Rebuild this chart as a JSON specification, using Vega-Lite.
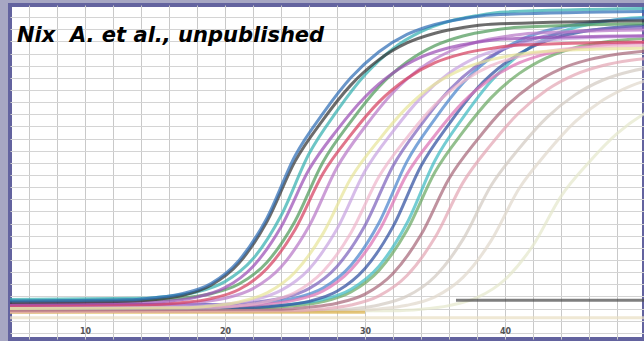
{
  "$schema": "https://vega.github.io/schema/vega-lite/v6.json",
  "width": 634,
  "height": 334,
  "autosize": {"type": "none"},
  "padding": {"left": 10, "top": 5, "right": 0, "bottom": 2},
  "background": "#a7a7c3",
  "config": {"view": {"stroke": "#63639f", "strokeWidth": 4, "fill": "#ffffff"}},
  "title": {
    "text": "Nix\u00a0 A. et al., unpublished",
    "anchor": "start",
    "frame": "group",
    "orient": "top",
    "offset": 0,
    "baseline": "alphabetic",
    "dx": 7,
    "dy": 58,
    "font": "DejaVu Sans",
    "fontSize": 21,
    "fontStyle": "italic",
    "fontWeight": "bold",
    "color": "#000000"
  },
  "data": {"values": [
    {"s":"F4","c":4,"v":-0.03},{"s":"F4","c":51,"v":-0.03},
    {"s":"D3","c":4,"v":-0.01},{"s":"D3","c":32,"v":-0.007},{"s":"D3","c":34,"v":-0.002},{"s":"D3","c":36,"v":0.01},{"s":"D3","c":38,"v":0.036},{"s":"D3","c":40,"v":0.096},{"s":"D3","c":42,"v":0.208},{"s":"D3","c":44,"v":0.37},{"s":"D3","c":46,"v":0.482},{"s":"D3","c":48,"v":0.576},{"s":"D3","c":50,"v":0.644},{"s":"D3","c":52,"v":0.688},
    {"s":"D2","c":4,"v":-0.01},{"s":"D2","c":29,"v":-0.007},{"s":"D2","c":31,"v":-0.001},{"s":"D2","c":33,"v":0.011},{"s":"D2","c":35,"v":0.039},{"s":"D2","c":37,"v":0.103},{"s":"D2","c":39,"v":0.223},{"s":"D2","c":41,"v":0.395},{"s":"D2","c":43,"v":0.514},{"s":"D2","c":45,"v":0.615},{"s":"D2","c":47,"v":0.687},{"s":"D2","c":49,"v":0.734},{"s":"D2","c":51,"v":0.763},
    {"s":"D1","c":4,"v":-0.01},{"s":"D1","c":27,"v":-0.007},{"s":"D1","c":29,"v":-0.001},{"s":"D1","c":31,"v":0.012},{"s":"D1","c":33,"v":0.041},{"s":"D1","c":35,"v":0.106},{"s":"D1","c":37,"v":0.228},{"s":"D1","c":39,"v":0.405},{"s":"D1","c":41,"v":0.527},{"s":"D1","c":43,"v":0.63},{"s":"D1","c":45,"v":0.704},{"s":"D1","c":47,"v":0.753},{"s":"D1","c":49,"v":0.782},{"s":"D1","c":51,"v":0.798},
    {"s":"F2","c":4,"v":-0.012},{"s":"F2","c":30,"v":-0.012},
    {"s":"F1","c":36.5,"v":0.028},{"s":"F1","c":51,"v":0.028},
    {"s":"R8","c":4,"v":-0.01},{"s":"R8","c":25,"v":-0.007},{"s":"R8","c":27,"v":-0.001},{"s":"R8","c":29,"v":0.012},{"s":"R8","c":31,"v":0.042},{"s":"R8","c":33,"v":0.109},{"s":"R8","c":35,"v":0.234},{"s":"R8","c":37,"v":0.415},{"s":"R8","c":39,"v":0.54},{"s":"R8","c":41,"v":0.645},{"s":"R8","c":43,"v":0.721},{"s":"R8","c":45,"v":0.771},{"s":"R8","c":47,"v":0.801},{"s":"R8","c":49,"v":0.818},{"s":"R8","c":51,"v":0.828},
    {"s":"R7","c":4,"v":-0.005},{"s":"R7","c":24,"v":-0.002},{"s":"R7","c":26,"v":0.005},{"s":"R7","c":28,"v":0.018},{"s":"R7","c":30,"v":0.048},{"s":"R7","c":32,"v":0.116},{"s":"R7","c":34,"v":0.243},{"s":"R7","c":36,"v":0.428},{"s":"R7","c":38,"v":0.555},{"s":"R7","c":40,"v":0.662},{"s":"R7","c":42,"v":0.739},{"s":"R7","c":44,"v":0.79},{"s":"R7","c":46,"v":0.82},{"s":"R7","c":48,"v":0.838},{"s":"R7","c":50,"v":0.848},{"s":"R7","c":51,"v":0.851},
    {"s":"R6","c":4,"v":0},{"s":"R6","c":23,"v":0.004},{"s":"R6","c":25,"v":0.01},{"s":"R6","c":27,"v":0.023},{"s":"R6","c":29,"v":0.055},{"s":"R6","c":31,"v":0.126},{"s":"R6","c":33,"v":0.258},{"s":"R6","c":35,"v":0.45},{"s":"R6","c":37,"v":0.582},{"s":"R6","c":39,"v":0.694},{"s":"R6","c":41,"v":0.774},{"s":"R6","c":43,"v":0.827},{"s":"R6","c":45,"v":0.859},{"s":"R6","c":47,"v":0.877},{"s":"R6","c":49,"v":0.887},{"s":"R6","c":51,"v":0.893},
    {"s":"R5","c":4,"v":0.005},{"s":"R5","c":23,"v":0.009},{"s":"R5","c":25,"v":0.016},{"s":"R5","c":27,"v":0.03},{"s":"R5","c":29,"v":0.064},{"s":"R5","c":31,"v":0.14},{"s":"R5","c":33,"v":0.282},{"s":"R5","c":35,"v":0.488},{"s":"R5","c":37,"v":0.629},{"s":"R5","c":39,"v":0.749},{"s":"R5","c":41,"v":0.835},{"s":"R5","c":43,"v":0.892},{"s":"R5","c":45,"v":0.926},{"s":"R5","c":47,"v":0.945},{"s":"R5","c":49,"v":0.957},{"s":"R5","c":51,"v":0.962},
    {"s":"R4","c":4,"v":0},{"s":"R4","c":22,"v":0.004},{"s":"R4","c":24,"v":0.01},{"s":"R4","c":26,"v":0.024},{"s":"R4","c":28,"v":0.057},{"s":"R4","c":30,"v":0.132},{"s":"R4","c":32,"v":0.27},{"s":"R4","c":34,"v":0.47},{"s":"R4","c":36,"v":0.608},{"s":"R4","c":38,"v":0.725},{"s":"R4","c":40,"v":0.808},{"s":"R4","c":42,"v":0.864},{"s":"R4","c":44,"v":0.897},{"s":"R4","c":46,"v":0.916},{"s":"R4","c":48,"v":0.927},{"s":"R4","c":51,"v":0.934},
    {"s":"R3","c":4,"v":0.01},{"s":"R3","c":21,"v":0.014},{"s":"R3","c":23,"v":0.021},{"s":"R3","c":25,"v":0.035},{"s":"R3","c":27,"v":0.068},{"s":"R3","c":29,"v":0.143},{"s":"R3","c":31,"v":0.283},{"s":"R3","c":33,"v":0.485},{"s":"R3","c":35,"v":0.625},{"s":"R3","c":37,"v":0.743},{"s":"R3","c":39,"v":0.827},{"s":"R3","c":41,"v":0.883},{"s":"R3","c":43,"v":0.916},{"s":"R3","c":45,"v":0.935},{"s":"R3","c":47,"v":0.947},{"s":"R3","c":51,"v":0.956},
    {"s":"R2","c":4,"v":0.005},{"s":"R2","c":21,"v":0.009},{"s":"R2","c":23,"v":0.015},{"s":"R2","c":25,"v":0.028},{"s":"R2","c":27,"v":0.058},{"s":"R2","c":29,"v":0.128},{"s":"R2","c":31,"v":0.256},{"s":"R2","c":33,"v":0.443},{"s":"R2","c":35,"v":0.571},{"s":"R2","c":37,"v":0.68},{"s":"R2","c":39,"v":0.758},{"s":"R2","c":41,"v":0.809},{"s":"R2","c":43,"v":0.84},{"s":"R2","c":45,"v":0.857},{"s":"R2","c":47,"v":0.868},{"s":"R2","c":51,"v":0.877},
    {"s":"R1","c":4,"v":0.01},{"s":"R1","c":20,"v":0.014},{"s":"R1","c":22,"v":0.02},{"s":"R1","c":24,"v":0.034},{"s":"R1","c":26,"v":0.066},{"s":"R1","c":28,"v":0.139},{"s":"R1","c":30,"v":0.274},{"s":"R1","c":32,"v":0.47},{"s":"R1","c":34,"v":0.605},{"s":"R1","c":36,"v":0.719},{"s":"R1","c":38,"v":0.801},{"s":"R1","c":40,"v":0.856},{"s":"R1","c":42,"v":0.888},{"s":"R1","c":44,"v":0.906},{"s":"R1","c":46,"v":0.917},{"s":"R1","c":51,"v":0.927},
    {"s":"M3","c":4,"v":0},{"s":"M3","c":19,"v":0.003},{"s":"M3","c":21,"v":0.01},{"s":"M3","c":23,"v":0.023},{"s":"M3","c":25,"v":0.053},{"s":"M3","c":27,"v":0.122},{"s":"M3","c":29,"v":0.25},{"s":"M3","c":31,"v":0.435},{"s":"M3","c":33,"v":0.563},{"s":"M3","c":35,"v":0.671},{"s":"M3","c":37,"v":0.748},{"s":"M3","c":39,"v":0.8},{"s":"M3","c":41,"v":0.83},{"s":"M3","c":43,"v":0.847},{"s":"M3","c":45,"v":0.858},{"s":"M3","c":51,"v":0.868},
    {"s":"M2","c":4,"v":0.005},{"s":"M2","c":18,"v":0.009},{"s":"M2","c":20,"v":0.015},{"s":"M2","c":22,"v":0.028},{"s":"M2","c":24,"v":0.06},{"s":"M2","c":26,"v":0.13},{"s":"M2","c":28,"v":0.262},{"s":"M2","c":30,"v":0.453},{"s":"M2","c":32,"v":0.584},{"s":"M2","c":34,"v":0.695},{"s":"M2","c":36,"v":0.775},{"s":"M2","c":38,"v":0.828},{"s":"M2","c":40,"v":0.859},{"s":"M2","c":42,"v":0.877},{"s":"M2","c":44,"v":0.888},{"s":"M2","c":51,"v":0.898},
    {"s":"M1","c":4,"v":0},{"s":"M1","c":17,"v":0.003},{"s":"M1","c":19,"v":0.009},{"s":"M1","c":21,"v":0.022},{"s":"M1","c":23,"v":0.052},{"s":"M1","c":25,"v":0.12},{"s":"M1","c":27,"v":0.247},{"s":"M1","c":29,"v":0.43},{"s":"M1","c":31,"v":0.556},{"s":"M1","c":33,"v":0.663},{"s":"M1","c":35,"v":0.74},{"s":"M1","c":37,"v":0.79},{"s":"M1","c":39,"v":0.82},{"s":"M1","c":41,"v":0.838},{"s":"M1","c":43,"v":0.848},{"s":"M1","c":51,"v":0.858},
    {"s":"L7","c":4,"v":0.01},{"s":"L7","c":16,"v":0.014},{"s":"L7","c":18,"v":0.02},{"s":"L7","c":20,"v":0.034},{"s":"L7","c":22,"v":0.066},{"s":"L7","c":24,"v":0.137},{"s":"L7","c":26,"v":0.271},{"s":"L7","c":28,"v":0.465},{"s":"L7","c":30,"v":0.599},{"s":"L7","c":32,"v":0.712},{"s":"L7","c":34,"v":0.793},{"s":"L7","c":36,"v":0.846},{"s":"L7","c":38,"v":0.878},{"s":"L7","c":40,"v":0.896},{"s":"L7","c":42,"v":0.907},{"s":"L7","c":51,"v":0.918},
    {"s":"L6","c":4,"v":0.025},{"s":"L6","c":15,"v":0.029},{"s":"L6","c":17,"v":0.035},{"s":"L6","c":19,"v":0.049},{"s":"L6","c":21,"v":0.081},{"s":"L6","c":23,"v":0.153},{"s":"L6","c":25,"v":0.288},{"s":"L6","c":27,"v":0.483},{"s":"L6","c":29,"v":0.617},{"s":"L6","c":31,"v":0.731},{"s":"L6","c":33,"v":0.812},{"s":"L6","c":35,"v":0.866},{"s":"L6","c":37,"v":0.898},{"s":"L6","c":39,"v":0.916},{"s":"L6","c":41,"v":0.927},{"s":"L6","c":51,"v":0.939},
    {"s":"L5","c":4,"v":0.01},{"s":"L5","c":15,"v":0.014},{"s":"L5","c":17,"v":0.02},{"s":"L5","c":19,"v":0.033},{"s":"L5","c":21,"v":0.063},{"s":"L5","c":23,"v":0.132},{"s":"L5","c":25,"v":0.26},{"s":"L5","c":27,"v":0.445},{"s":"L5","c":29,"v":0.573},{"s":"L5","c":31,"v":0.681},{"s":"L5","c":33,"v":0.758},{"s":"L5","c":35,"v":0.81},{"s":"L5","c":37,"v":0.84},{"s":"L5","c":39,"v":0.857},{"s":"L5","c":41,"v":0.868},{"s":"L5","c":51,"v":0.879},
    {"s":"L4","c":4,"v":0.015},{"s":"L4","c":14,"v":0.019},{"s":"L4","c":16,"v":0.025},{"s":"L4","c":18,"v":0.038},{"s":"L4","c":20,"v":0.069},{"s":"L4","c":22,"v":0.139},{"s":"L4","c":24,"v":0.269},{"s":"L4","c":26,"v":0.458},{"s":"L4","c":28,"v":0.588},{"s":"L4","c":30,"v":0.697},{"s":"L4","c":32,"v":0.776},{"s":"L4","c":34,"v":0.828},{"s":"L4","c":36,"v":0.859},{"s":"L4","c":38,"v":0.877},{"s":"L4","c":40,"v":0.888},{"s":"L4","c":51,"v":0.899},
    {"s":"L3","c":4,"v":0.03},{"s":"L3","c":14,"v":0.034},{"s":"L3","c":16,"v":0.041},{"s":"L3","c":18,"v":0.055},{"s":"L3","c":20,"v":0.089},{"s":"L3","c":22,"v":0.164},{"s":"L3","c":24,"v":0.306},{"s":"L3","c":26,"v":0.51},{"s":"L3","c":28,"v":0.651},{"s":"L3","c":30,"v":0.77},{"s":"L3","c":32,"v":0.856},{"s":"L3","c":34,"v":0.912},{"s":"L3","c":36,"v":0.946},{"s":"L3","c":38,"v":0.965},{"s":"L3","c":40,"v":0.977},{"s":"L3","c":51,"v":0.989},
    {"s":"L2","c":4,"v":0.02},{"s":"L2","c":13,"v":0.024},{"s":"L2","c":15,"v":0.03},{"s":"L2","c":17,"v":0.044},{"s":"L2","c":19,"v":0.077},{"s":"L2","c":21,"v":0.15},{"s":"L2","c":23,"v":0.287},{"s":"L2","c":25,"v":0.485},{"s":"L2","c":27,"v":0.622},{"s":"L2","c":29,"v":0.737},{"s":"L2","c":31,"v":0.82},{"s":"L2","c":33,"v":0.875},{"s":"L2","c":35,"v":0.907},{"s":"L2","c":37,"v":0.926},{"s":"L2","c":39,"v":0.937},{"s":"L2","c":51,"v":0.949},
    {"s":"L1","c":4,"v":0.025},{"s":"L1","c":13,"v":0.029},{"s":"L1","c":15,"v":0.036},{"s":"L1","c":17,"v":0.05},{"s":"L1","c":19,"v":0.083},{"s":"L1","c":21,"v":0.159},{"s":"L1","c":23,"v":0.299},{"s":"L1","c":25,"v":0.503},{"s":"L1","c":27,"v":0.643},{"s":"L1","c":29,"v":0.761},{"s":"L1","c":31,"v":0.846},{"s":"L1","c":33,"v":0.903},{"s":"L1","c":35,"v":0.936},{"s":"L1","c":37,"v":0.955},{"s":"L1","c":39,"v":0.967},{"s":"L1","c":51,"v":0.979}
  ]},
  "mark": {"type": "line", "interpolate": "monotone", "strokeWidth": 3, "opacity": 0.72, "clip": true},
  "encoding": {
    "x": {
      "field": "c", "type": "quantitative",
      "scale": {"domain": [4.64, 49.93], "nice": false, "zero": false},
      "axis": {
        "title": null, "values": [6,8,10,12,14,16,18,20,22,24,26,28,30,32,34,36,38,40,42,44,46,48],
        "labelExpr": "datum.value % 10 === 0 ? datum.value : ''",
        "offset": -14, "domain": false, "ticks": false, "labelPadding": 2,
        "labelFont": "DejaVu Sans", "labelFontSize": 8, "labelFontWeight": "bold", "labelColor": "#555555",
        "grid": true, "gridColor": "#c9c9c9", "gridWidth": 1
      }
    },
    "y": {
      "field": "v", "type": "quantitative",
      "scale": {"domain": [-0.1, 1.0], "nice": false, "zero": false},
      "axis": {
        "title": null, "labels": false, "ticks": false, "domain": false,
        "values": [-0.08,-0.04,0,0.04,0.08,0.12,0.16,0.2,0.24,0.28,0.32,0.36,0.4,0.44,0.48,0.52,0.56,0.6,0.64,0.68,0.72,0.76,0.8,0.84,0.88,0.92,0.96],
        "grid": true, "gridColor": "#d4d4d4", "gridWidth": 1
      }
    },
    "color": {
      "field": "s", "type": "nominal", "legend": null,
      "scale": {
        "domain": ["F4","D3","D2","D1","F2","F1","R8","R7","R6","R5","R4","R3","R2","R1","M3","M2","M1","L7","L6","L5","L4","L3","L2","L1"],
        "range": ["#e9dfc4","#e4e8cc","#e0d8cc","#d3cac2","#dcb24a","#4d4d4d","#e3a6b4","#a8687a","#6aa862","#3fbac2","#2f4f9f","#4a83cc","#dd72b4","#7d62bd","#eeb6cc","#c7a3e0","#e8e49a","#b878c8","#4f9a5a","#d6405f","#9b4fb5","#35b0b0","#333333","#2f6db5"]
      }
    }
  }
}
